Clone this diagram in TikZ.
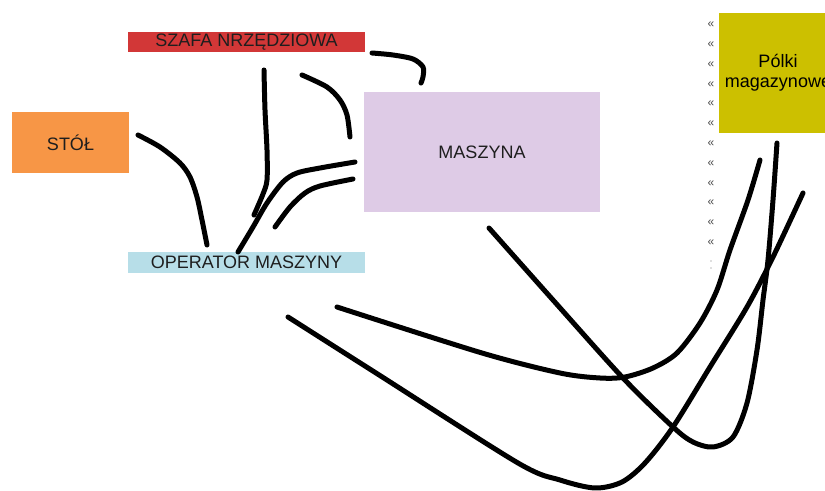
\documentclass[tikz,border=0pt]{standalone}
\usepackage{fontspec}
\setmainfont{Liberation Sans}
\definecolor{szafared}{RGB}{210,55,55}
\definecolor{stolorange}{RGB}{247,150,70}
\definecolor{opcyan}{RGB}{183,222,232}
\definecolor{maszlav}{RGB}{222,203,230}
\definecolor{polkiol}{RGB}{204,192,0}
\definecolor{txtdark}{RGB}{30,30,30}
\tikzset{
  box/.style={rectangle, inner sep=0pt, draw=none, text=txtdark, align=center,
    font=\fontsize{13.5}{15}\selectfont},
  stroke/.style={line width=3.75pt, line cap=round, line join=round, black},
  guill/.style={text=black!70, font=\fontsize{9}{9}\selectfont, inner sep=0pt},
}
\begin{document}
\begin{tikzpicture}[x=0.75pt,y=-0.75pt]
\useasboundingbox (0,0) rectangle (825,491);
\fill[white] (0,0) rectangle (825,491);
% boxes
\node[box, fill=szafared, minimum width=177.75pt, minimum height=15pt] (szafa) at (246.5,42) {SZAFA NRZĘDZIOWA};
\node[box, fill=stolorange, minimum width=87.75pt, minimum height=45.75pt] (stol) at (70.5,142.5) {STÓŁ};
\node[box, fill=opcyan, minimum width=177.75pt, minimum height=15.75pt] (operator) at (246.5,262.5) {OPERATOR MASZYNY};
\node[box, fill=maszlav, minimum width=177pt, minimum height=90pt] (maszyna) at (482,152) {MASZYNA};
\node[box, fill=polkiol, minimum width=88.5pt, minimum height=90pt, text=black] (polki) at (778,73) {Pólki\\magazynowe};
% guillemets
\foreach \i in {0,...,11} {
  \node[guill] (g\i) at (711,{25+19.8*\i}) {«};
}
\fill[black!25] (711,261) circle (0.9);
\fill[black!25] (711,268) circle (0.9);
% hand-drawn strokes
\draw[stroke] plot[smooth] coordinates {(372,53) (393,55) (413,59) (423,67) (423,77) (421,83)};
\draw[stroke] plot[smooth] coordinates {(264,70) (265,110) (267,150) (267,180) (263,194) (254,215)};
\draw[stroke] plot[smooth] coordinates {(302,75) (327,87) (340,100) (347,115) (350,137)};
\draw[stroke] plot[smooth] coordinates {(138,135) (160,147) (180,163) (190,177) (197,197) (202,220) (207,245)};
\draw[stroke] plot[smooth] coordinates {(238,252) (253,227) (267,203) (283,182) (297,173) (320,168) (355,162)};
\draw[stroke] plot[smooth] coordinates {(275,227) (290,207) (305,193) (320,186) (353,179)};
% long curves
\draw[stroke] plot[smooth] coordinates {(337,307) (482,353) (560,373) (600,378) (625,377) (653,368) (677,353) (700,323) (717,290) (730,250) (748,200) (760,160)};
\draw[stroke] plot[smooth] coordinates {(489,228) (553,300) (623,378) (673,427) (693,442) (713,447) (733,437) (747,403) (757,350) (763,300) (768,260) (773,200) (777,143)};
\draw[stroke] plot[smooth] coordinates {(288,317) (376,373) (518,463) (560,480) (595,488) (622,482) (645,463) (673,427) (710,367) (747,307) (773,257) (803,193)};
\end{tikzpicture}
\end{document}
